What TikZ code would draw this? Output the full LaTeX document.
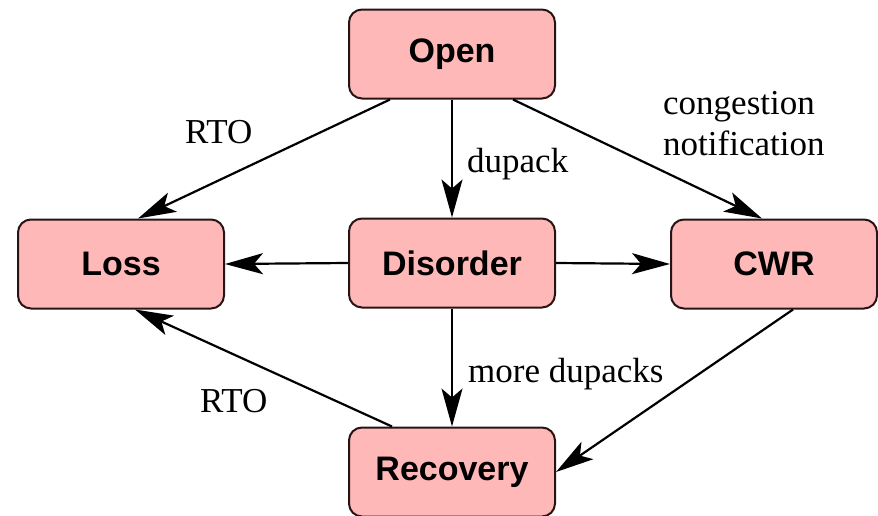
\documentclass[tikz,border=0pt]{standalone}
\usepackage{fontspec}
\setmainfont{Liberation Serif}
\newfontfamily\boxfont{Liberation Sans}
\usetikzlibrary{arrows.meta}
\definecolor{boxpink}{RGB}{255,184,184}
\definecolor{boxline}{RGB}{40,20,20}
\tikzset{
  state/.style={draw=boxline, line width=2pt, fill=boxpink, rounded corners=13pt,
    minimum width=206pt, minimum height=89pt, inner sep=0pt,
    font=\boxfont\bfseries\fontsize{34}{40}\selectfont},
  conn/.style={line width=2.2pt, arrows={-Stealth[length=38pt,width=21pt,inset=9pt]}},
  lbl/.style={inner sep=0pt, anchor=base west, font=\fontsize{35}{41}\selectfont}
}
\begin{document}
\begin{tikzpicture}[x=1pt,y=-1pt]
\useasboundingbox (0,0) rectangle (878,515);
\node[state] (open) at (452,54) {Open};
\node[state] (dis) at (452,263) {Disorder};
\node[state] (loss) at (121,264) {Loss};
\node[state] (cwr) at (774,264) {CWR};
\node[state] (rec) at (452,472) {Recovery};

\draw[conn] ([xshift=-62pt]open.south) -- ([xshift=17pt]loss.north);
\draw[conn] (open.south) -- (dis.north);
\draw[conn] ([xshift=61pt]open.south) -- ([xshift=-12pt]cwr.north);
\draw[conn] (dis.west) -- (loss.east);
\draw[conn] (dis.east) -- (cwr.west);
\draw[conn] (dis.south) -- (rec.north);
\draw[conn] ([xshift=-60pt]rec.north) -- ([xshift=14pt]loss.south);
\draw[conn] ([xshift=19pt]cwr.south) -- (rec.east);

\node[lbl] (rto1) at (185,143) {RTO};
\node[lbl] (dupack) at (467,172) {dupack};
\node[lbl] (cong1) at (663,114) {congestion};
\node[lbl] (cong2) at (663,155) {notification};
\node[lbl] (more) at (468,382) {more dupacks};
\node[lbl] (rto2) at (200,412) {RTO};
\end{tikzpicture}
\end{document}
